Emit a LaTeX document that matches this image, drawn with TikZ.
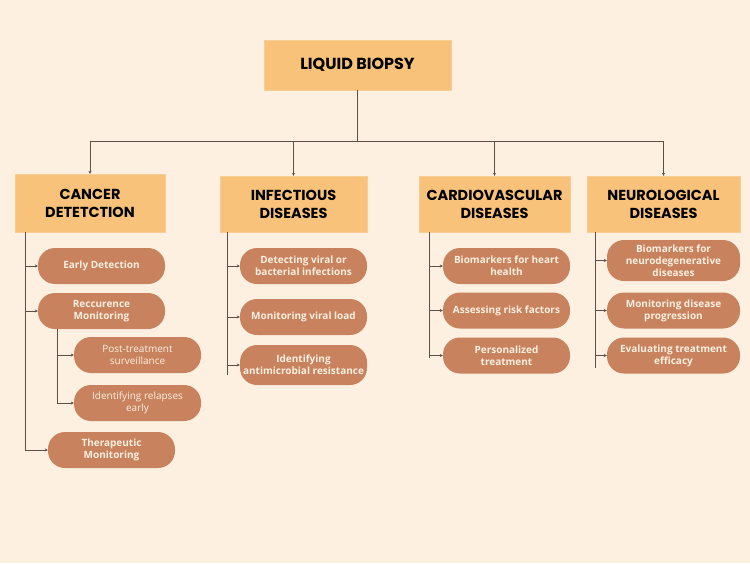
\documentclass[tikz,border=0pt]{standalone}
\usepackage{fontspec}
\setmainfont{Open Sans}
\newfontfamily\headfont{Poppins}
\usepackage{xcolor}
\usepackage{tikz}
\usetikzlibrary{arrows.meta}
\definecolor{bgcream}{HTML}{FDF0E1}
\definecolor{headorange}{HTML}{F8C27A}
\definecolor{pillbrown}{HTML}{C8825E}
\definecolor{linegray}{HTML}{5A5048}

\begin{document}
\begin{tikzpicture}[x=1pt, y=-1pt,
        head/.style={rectangle, fill=headorange, draw=headorange!80!white, text=black, align=center, font=\headfont\bfseries\fontsize{14.5}{18}\selectfont},
        pill/.style={rectangle, rounded corners=17pt, fill=pillbrown, text=bgcream, align=center, minimum width=127pt, minimum height=36pt, inner sep=2pt, font=\bfseries\fontsize{10}{12}\selectfont},
        subpill/.style={pill, font=\fontsize{10}{12}\selectfont},
        link/.style={draw=linegray, line width=0.8pt},
        arr/.style={link, -{Stealth[length=3pt, width=3pt]}}]
        \fill[bgcream] (0,0) rectangle (750,563);
        \useasboundingbox (0,0) rectangle (750,563);
        % headers
        \node (0) at (357.5, 65) [head, minimum width=187pt, minimum height=50pt, font=\headfont\bfseries\fontsize{16}{18}\selectfont] {LIQUID BIOPSY};
        \node (1) at (90, 203) [head, minimum width=150pt, minimum height=58pt] {CANCER\\DETETCTION};
        \node (2) at (293.5, 204) [head, minimum width=147pt, minimum height=56pt] {INFECTIOUS\\DISEASES};
        \node (3) at (494.5, 204) [head, minimum width=151pt, minimum height=56pt] {CARDIOVASCULAR\\DISEASES};
        \node (4) at (663.5, 204) [head, minimum width=153pt, minimum height=56pt] {NEUROLOGICAL\\DISEASES};
        % cancer detection
        \node (11) at (101.5, 266) [pill] {Early Detection};
        \node (12) at (101.5, 311) [pill] {Reccurence\\Monitoring};
        \node (121) at (137.5, 355) [subpill] {Post-treatment\\surveillance};
        \node (122) at (137.5, 403) [subpill] {Identifying relapses\\early};
        \node (13) at (111.5, 450) [pill] {Therapeutic\\Monitoring};
        % infectious diseases
        \node (21) at (303.5, 266) [pill] {Detecting viral or\\bacterial infections};
        \node (22) at (303.5, 317) [pill] {Monitoring viral load};
        \node (23) at (303.5, 365) [pill, minimum height=40pt] {Identifying\\antimicrobial resistance};
        % cardiovascular diseases
        \node (31) at (506.5, 266) [pill] {Biomarkers for heart\\health};
        \node (32) at (506.5, 310.5) [pill] {Assessing risk factors};
        \node (33) at (506.5, 355.5) [pill] {Personalized\\treatment};
        % neurological diseases
        \node (41) at (673.5, 260.5) [pill, minimum width=133pt, minimum height=41pt] {Biomarkers for\\neurodegenerative\\diseases};
        \node (42) at (673.5, 310.5) [pill, minimum width=133pt] {Monitoring disease\\progression};
        \node (43) at (673.5, 355.5) [pill, minimum width=133pt] {Evaluating treatment\\efficacy};
        % trunk ends
        \coordinate (hub) at (357.5, 141);
        \coordinate (1e) at (25, 451);
        \coordinate (12e) at (57, 403);
        \coordinate (2e) at (227, 375);
        \coordinate (3e) at (429, 358);
        \coordinate (4e) at (595, 368);
        % top level
        \draw [link] (0) -- (hub);
        \draw [link] (1 |- hub) -- (4 |- hub);
        \draw [arr] (1 |- hub) -- (1);
        \draw [arr] (2 |- hub) -- (2);
        \draw [arr] (3 |- hub) -- (3);
        \draw [arr] (4 |- hub) -- (4);
        % branches
        \draw [link] (1.south -| 1e) -- (1e);
        \draw [arr] (11 -| 1e) -- (11);
        \draw [arr] (12 -| 1e) -- (12);
        \draw [arr] (13 -| 1e) -- (13);
        \draw [link] (12.south -| 12e) -- (12e);
        \draw [arr] (121 -| 12e) -- (121);
        \draw [arr] (122 -| 12e) -- (122);
        \draw [link] (2.south -| 2e) -- (2e);
        \draw [arr] (21 -| 2e) -- (21);
        \draw [arr] (22 -| 2e) -- (22);
        \draw [arr] (23 -| 2e) -- (23);
        \draw [link] (3.south -| 3e) -- (3e);
        \draw [arr] (31 -| 3e) -- (31);
        \draw [arr] (32 -| 3e) -- (32);
        \draw [arr] (33 -| 3e) -- (33);
        \draw [link] (4.south -| 4e) -- (4e);
        \draw [arr] (41 -| 4e) -- (41);
        \draw [arr] (42 -| 4e) -- (42);
        \draw [arr] (43 -| 4e) -- (43);
\end{tikzpicture}
\end{document}
